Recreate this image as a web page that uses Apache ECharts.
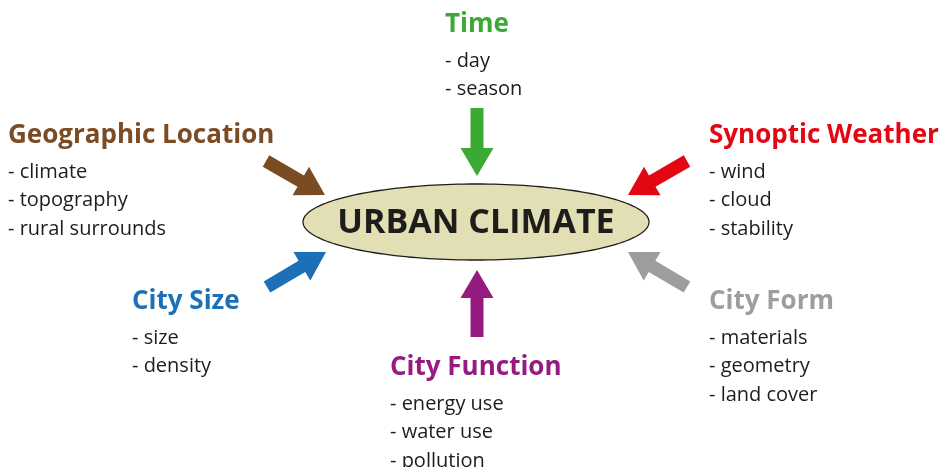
<!DOCTYPE html>
<html>
<head>
<meta charset="utf-8">
<script src="https://cdn.jsdelivr.net/npm/echarts@6/dist/echarts.min.js"></script>
<style>
  html, body { margin: 0; padding: 0; background: #fff; }
  #main { width: 946px; height: 467px; }
</style>
</head>
<body>
<div id="main"></div>
<script>
  // factors and their sub-items
  const centerLabel = 'URBAN CLIMATE'
  const factors = ['Geographic Location', 'Time', 'Synoptic Weather', 'City Size', 'City Function', 'City Form']
  const factorItems = [
    ['climate', 'topography', 'rural surrounds'],
    ['day', 'season'],
    ['wind', 'cloud', 'stability'],
    ['size', 'density'],
    ['energy use', 'water use', 'pollution'],
    ['materials', 'geometry', 'land cover']
  ]
  const factorColors = ['#7b4b24', '#3aaa35', '#e30613', '#1d70b7', '#951b81', '#9d9d9c']

  // layout (diagram coordinates, px): title anchor, arrow tail, arrow tip
  const titlePos = [[8, 136], [445, 25], [709, 136], [132, 302], [390, 368], [709, 302]]
  const arrowTail = [[266, 161], [477, 108], [687, 161], [267, 287], [477, 337], [687, 287]]
  const arrowTip = [[325, 195], [477, 176], [628, 195], [326, 252], [477, 270], [628, 252]]
  const ellipseCenter = [476, 222]
  const ellipseRadius = [173, 38]

  const font = '"Open Sans", "Noto Sans", sans-serif'
  const myChart = echarts.init(document.getElementById('main'))

  function arrowPoints (api, tail, tip) {
    const a = api.coord(tail)
    const b = api.coord(tip)
    const dx = b[0] - a[0]
    const dy = b[1] - a[1]
    const len = Math.sqrt(dx * dx + dy * dy)
    const ux = dx / len
    const uy = dy / len
    const nx = -uy
    const ny = ux
    const shaft = 6.5
    const head = 16.5
    const headLen = 28
    const hx = b[0] - ux * headLen
    const hy = b[1] - uy * headLen
    return [
      [a[0] + nx * shaft, a[1] + ny * shaft],
      [hx + nx * shaft, hy + ny * shaft],
      [hx + nx * head, hy + ny * head],
      [b[0], b[1]],
      [hx - nx * head, hy - ny * head],
      [hx - nx * shaft, hy - ny * shaft],
      [a[0] - nx * shaft, a[1] - ny * shaft]
    ]
  }

  function renderFactor (params, api) {
    const i = api.value(0)
    const p = api.coord(titlePos[i])
    const children = [{
      type: 'polygon',
      shape: { points: arrowPoints(api, arrowTail[i], arrowTip[i]) },
      style: { fill: factorColors[i] }
    }, {
      type: 'text',
      style: {
        text: factors[i], x: p[0], y: p[1],
        fill: factorColors[i], font: 'bold 26px ' + font,
        textAlign: 'left', textVerticalAlign: 'middle'
      }
    }]
    factorItems[i].forEach(function (item, k) {
      children.push({
        type: 'text',
        style: {
          text: '- ' + item, x: p[0], y: p[1] + 36 + k * 28.5,
          fill: '#1d1d1b', font: '20px ' + font,
          textAlign: 'left', textVerticalAlign: 'middle'
        }
      })
    })
    return { type: 'group', children: children }
  }

  function renderCenter (params, api) {
    const c = api.coord(ellipseCenter)
    const pts = []
    for (let t = 0; t < 180; t++) {
      const ang = t / 180 * Math.PI * 2
      pts.push([c[0] + ellipseRadius[0] * Math.cos(ang), c[1] + ellipseRadius[1] * Math.sin(ang)])
    }
    return {
      type: 'group',
      children: [{
        type: 'polygon',
        shape: { points: pts },
        style: { fill: '#e3dfb4', stroke: '#1d1d1b', lineWidth: 1.3 }
      }, {
        type: 'text',
        style: {
          text: centerLabel, x: c[0], y: c[1] + 1,
          fill: '#1d1d1b', font: 'bold 34px ' + font,
          textAlign: 'center', textVerticalAlign: 'middle'
        }
      }]
    }
  }

  const option = {
    animation: false,
    grid: { left: 0, right: 0, top: 0, bottom: 0 },
    xAxis: { type: 'value', min: 0, max: 946, show: false },
    yAxis: { type: 'value', min: 0, max: 467, inverse: true, show: false },
    series: [
      {
        type: 'custom',
        renderItem: renderCenter,
        data: [[0]],
        silent: true
      },
      {
        type: 'custom',
        renderItem: renderFactor,
        data: factors.map(function (f, i) { return [i] }),
        silent: true
      }
    ]
  }
  myChart.setOption(option)
</script>
</body>
</html>
